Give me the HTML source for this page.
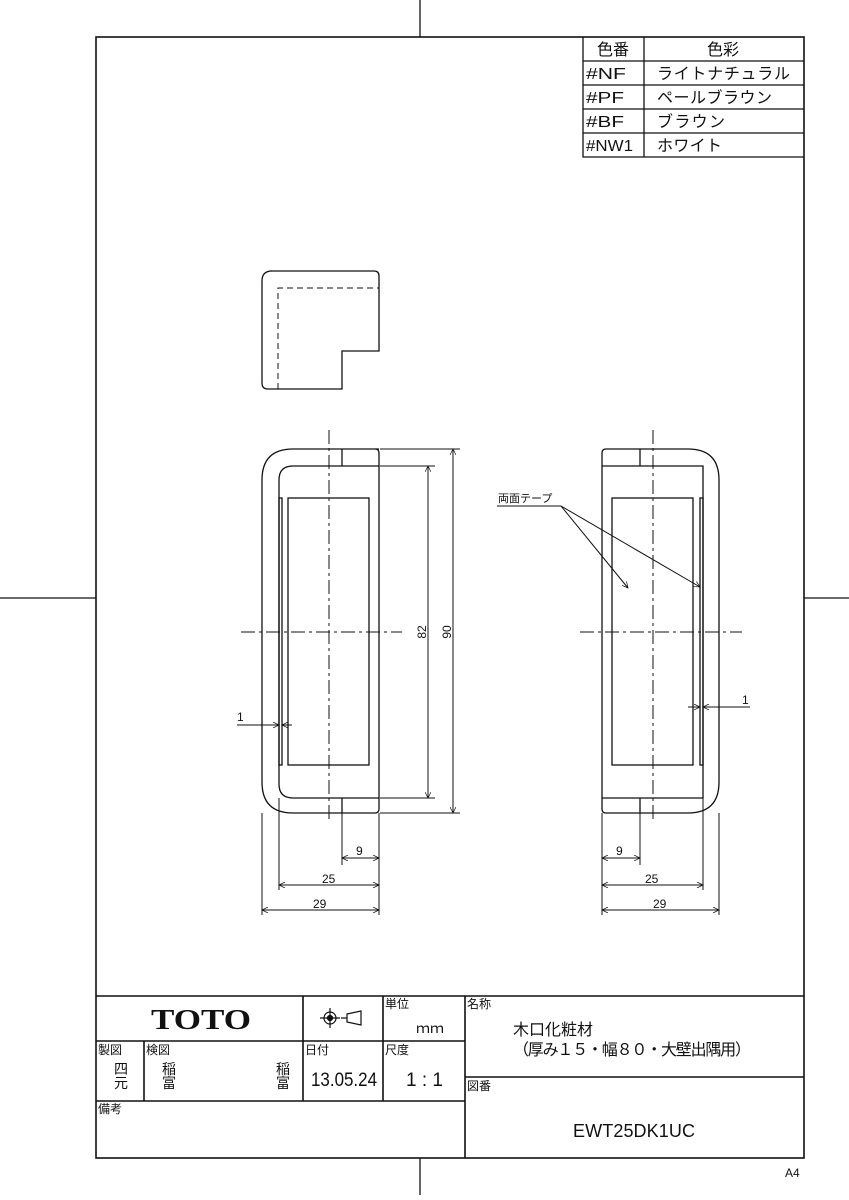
<!DOCTYPE html>
<html><head><meta charset="utf-8"><style>
html,body{margin:0;padding:0;background:#fff}
svg{display:block}
text{font-family:"Liberation Sans","Noto Sans CJK JP",sans-serif;fill:#111}
</style></head><body>
<svg width="849" height="1200" viewBox="0 0 849 1200" xmlns="http://www.w3.org/2000/svg">
<defs>
<marker id="a" viewBox="0 0 10 10" refX="10" refY="5" markerWidth="9" markerHeight="6" orient="auto-start-reverse" markerUnits="userSpaceOnUse"><path d="M0,0 L10,5 L0,10" fill="none" stroke="#111" stroke-width="1.2"/></marker>
</defs>
<g stroke="#111" fill="none" stroke-width="1.3">
<line x1="420" y1="0" x2="420" y2="37"/><line x1="420" y1="1158" x2="420" y2="1195"/>
<line x1="0" y1="598" x2="96" y2="598"/><line x1="804" y1="598" x2="849" y2="598"/>
<rect x="96" y="37" width="708" height="1121" stroke-width="1.6"/>
<path d="M583,37 V157 H804 M583,61 H804 M583,85 H804 M583,109 H804 M583,133 H804 M644,37 V157"/>
<path d="M270,271 H374 Q379,271 379,276 V351 H342 V389 H268 Q262,389 262,383 V281 Q262,271 272,271"/>
<path d="M278,389 V288 H379" stroke-dasharray="6,4" stroke-width="1"/>
<path d="M379,449 H293 Q262,449 262,480 V782 Q262,813 293,813 H375 Q379,813 379,809 V453 Q379,449 375,449"/>
<path d="M379,466 H293 Q279,466 279,480 V784 Q279,798 293,798 H379"/>
<path d="M342,449 V466 M342,798 V813"/>
<rect x="279" y="498" width="3" height="267"/>
<rect x="288" y="498" width="81" height="267"/>
<g stroke-width="1" stroke-dasharray="14,4,3,4">
<line x1="329" y1="430" x2="329" y2="822"/><line x1="241" y1="632" x2="402" y2="632"/>
<line x1="653" y1="430" x2="653" y2="822"/><line x1="580" y1="632" x2="742" y2="632"/>
</g>
<g stroke-width="1">
<line x1="380" y1="466" x2="435" y2="466"/><line x1="380" y1="798" x2="435" y2="798"/>
<line x1="380" y1="449" x2="460" y2="449"/><line x1="380" y1="813" x2="460" y2="813"/>
<line x1="428" y1="466" x2="428" y2="798" marker-start="url(#a)" marker-end="url(#a)"/>
<line x1="453" y1="449" x2="453" y2="813" marker-start="url(#a)" marker-end="url(#a)"/>
<line x1="237" y1="725" x2="279" y2="725" marker-end="url(#a)"/>
<line x1="292" y1="725" x2="282" y2="725" marker-end="url(#a)"/>
<path d="M342,813 V865 M379,813 V915 M279,798 V890 M262,813 V915"/>
<line x1="342" y1="858" x2="379" y2="858" marker-start="url(#a)" marker-end="url(#a)"/>
<line x1="279" y1="885" x2="379" y2="885" marker-start="url(#a)" marker-end="url(#a)"/>
<line x1="262" y1="910" x2="379" y2="910" marker-start="url(#a)" marker-end="url(#a)"/>
</g>
<path d="M606,449 H688 Q719,449 719,480 V782 Q719,813 688,813 H606 Q602,813 602,809 V453 Q602,449 606,449"/>
<path d="M602,466 H703 V798 H602"/>
<path d="M640,449 V466 M640,798 V813"/>
<rect x="700" y="498" width="3" height="267"/>
<rect x="612" y="498" width="81" height="267"/>
<g stroke-width="1">
<line x1="750" y1="707" x2="703" y2="707" marker-end="url(#a)"/>
<line x1="688" y1="707" x2="700" y2="707" marker-end="url(#a)"/>
<line x1="497" y1="506" x2="561" y2="506"/>
<line x1="561" y1="506" x2="628" y2="588" marker-end="url(#a)"/>
<line x1="561" y1="506" x2="700" y2="587" marker-end="url(#a)"/>
<path d="M602,813 V915 M640,813 V865 M703,798 V890 M719,813 V915"/>
<line x1="602" y1="858" x2="640" y2="858" marker-start="url(#a)" marker-end="url(#a)"/>
<line x1="602" y1="885" x2="703" y2="885" marker-start="url(#a)" marker-end="url(#a)"/>
<line x1="602" y1="910" x2="719" y2="910" marker-start="url(#a)" marker-end="url(#a)"/>
</g>
<g stroke-width="1.6">
<path d="M96,996 H804 M96,1041 H465 M96,1101 H465 M465,1077 H804 M144,1041 V1101 M303,996 V1101 M383,996 V1101 M465,996 V1158"/>
</g>
<circle cx="330" cy="1018" r="6" stroke-width="1.2"/><circle cx="330" cy="1018" r="2.5" fill="#111"/>
<path d="M320,1018 H340 M330,1008 V1028 M341,1018 H347 M347,1014 L361,1011 V1025 L347,1022 Z" stroke-width="1.2"/>
</g>
<g font-size="16">
<text x="597" y="55">色番</text><text x="707" y="55">色彩</text>
<text x="586" y="79" textLength="40" lengthAdjust="spacingAndGlyphs">#NF</text><text x="657" y="79" textLength="133" lengthAdjust="spacing">ライトナチュラル</text>
<text x="586" y="103" textLength="38" lengthAdjust="spacingAndGlyphs">#PF</text><text x="657" y="103" textLength="115" lengthAdjust="spacing">ペールブラウン</text>
<text x="586" y="127" textLength="38" lengthAdjust="spacingAndGlyphs">#BF</text><text x="657" y="127" textLength="68" lengthAdjust="spacing">ブラウン</text>
<text x="586" y="151" textLength="47" lengthAdjust="spacingAndGlyphs">#NW1</text><text x="657" y="151" textLength="65" lengthAdjust="spacing">ホワイト</text>
</g>
<g font-size="12">
<text transform="translate(426,632) rotate(-90)" text-anchor="middle">82</text>
<text transform="translate(451,632) rotate(-90)" text-anchor="middle">90</text>
<text x="237" y="721">1</text><text x="742" y="704">1</text>
<text x="356" y="855">9</text><text x="322" y="883">25</text><text x="313" y="908">29</text>
<text x="616" y="855">9</text><text x="645" y="883">25</text><text x="653" y="908">29</text>
<text x="498" y="502" font-size="11">両面テープ</text>
</g>
<text x="201" y="1029" style="font-family:'Liberation Serif',serif;font-weight:bold;font-size:29px" text-anchor="middle" textLength="100" lengthAdjust="spacingAndGlyphs">TOTO</text>
<g font-size="12">
<text x="385" y="1008">単位</text><text x="98" y="1054">製図</text><text x="146" y="1054">検図</text>
<text x="305" y="1054">日付</text><text x="385" y="1054">尺度</text><text x="98" y="1113">備考</text>
<text x="467" y="1008">名称</text><text x="467" y="1090">図番</text>
</g>
<g font-size="14">
<text x="416" y="1033">ｍｍ</text>
<text x="114" y="1074">四</text><text x="114" y="1088">元</text>
<text x="162" y="1074">稲</text><text x="162" y="1088">富</text>
<text x="276" y="1074">稲</text><text x="276" y="1088">富</text>
</g>
<text x="311" y="1086" font-size="19" textLength="66" lengthAdjust="spacingAndGlyphs">13.05.24</text>
<text x="406" y="1086" font-size="19">1 : 1</text>
<text x="513" y="1035" font-size="16">木口化粧材</text>
<text x="513" y="1055" font-size="16" textLength="238" lengthAdjust="spacing">（厚み１５・幅８０・大壁出隅用）</text>
<text x="573" y="1137" font-size="18" textLength="122" lengthAdjust="spacing">EWT25DK1UC</text>
<text x="785" y="1177" font-size="12">A4</text>
</svg>
</body></html>
